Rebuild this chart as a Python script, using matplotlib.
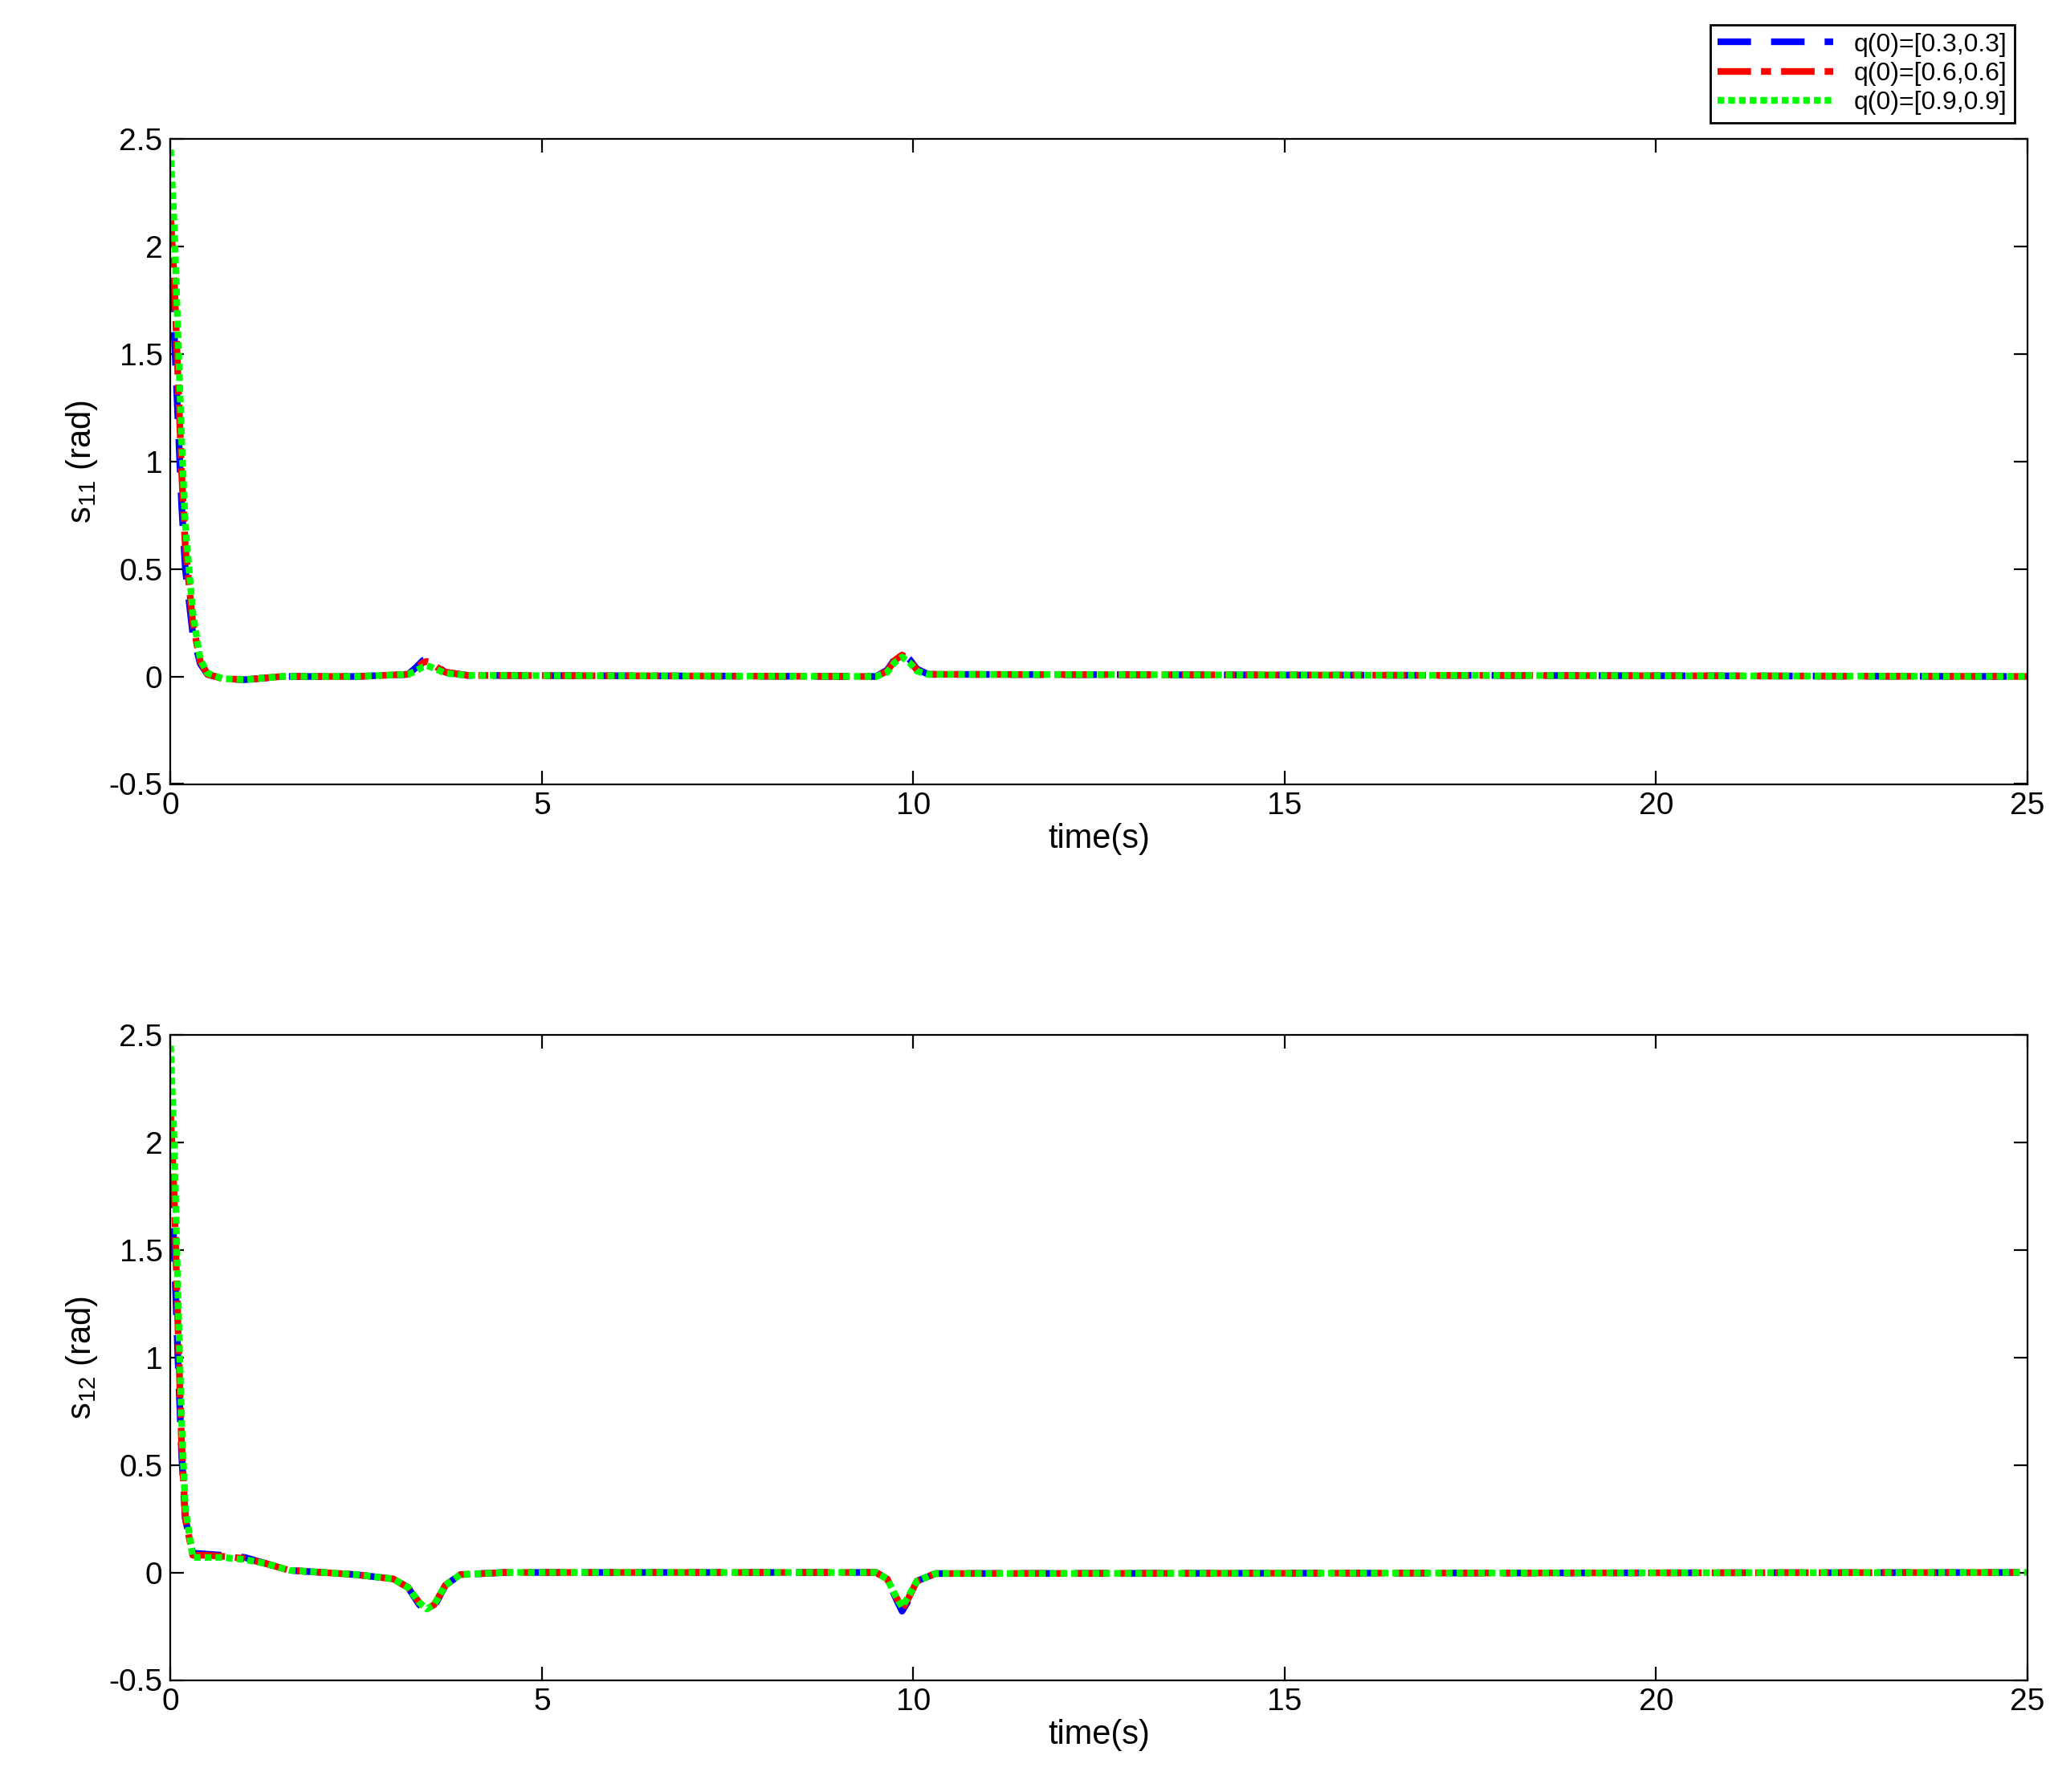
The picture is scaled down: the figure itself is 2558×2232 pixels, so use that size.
import numpy as np
import matplotlib.pyplot as plt

plt.rcParams['font.family'] = ['Liberation Sans', 'DejaVu Sans']
plt.rcParams['mathtext.fontset'] = 'custom'
plt.rcParams['mathtext.rm'] = 'Liberation Sans'
plt.rcParams['mathtext.it'] = 'Liberation Sans'

# s11 data (time, value) per initial condition
t_top = [0, 0.05, 0.1, 0.15, 0.2, 0.3, 0.4, 0.5, 0.7, 1.0, 1.5, 2.5, 3.2, 3.3, 3.4, 3.45, 3.5, 3.6, 3.7, 4.0, 9.5, 9.65, 9.75, 9.85, 9.95, 10.05, 10.2, 25]
s11_a = [1.85, 1.6, 1.2, 0.8, 0.5, 0.2, 0.06, 0.01, -0.01, -0.015, 0.0, 0.0, 0.01, 0.04, 0.075, 0.08, 0.075, 0.045, 0.02, 0.005, 0.0, 0.03, 0.08, 0.11, 0.08, 0.035, 0.01, 0.0]
s11_b = [2.15, 1.85, 1.4, 0.95, 0.6, 0.25, 0.07, 0.01, -0.01, -0.015, 0.0, 0.0, 0.01, 0.035, 0.065, 0.07, 0.065, 0.04, 0.02, 0.005, 0.0, 0.025, 0.075, 0.1, 0.075, 0.03, 0.01, 0.0]
s11_c = [2.45, 2.1, 1.6, 1.1, 0.7, 0.3, 0.08, 0.015, -0.01, -0.015, 0.0, 0.0, 0.01, 0.025, 0.045, 0.05, 0.045, 0.03, 0.015, 0.005, 0.0, 0.02, 0.065, 0.09, 0.065, 0.025, 0.01, 0.0]

# s12 data
t_bot = [0, 0.05, 0.1, 0.15, 0.2, 0.3, 0.5, 0.7, 1.0, 1.3, 1.6, 2.5, 3.0, 3.2, 3.35, 3.45, 3.55, 3.7, 3.9, 4.5, 9.5, 9.65, 9.78, 9.85, 9.92, 10.05, 10.3, 25]
s12_a = [1.85, 1.5, 1.0, 0.55, 0.25, 0.09, 0.085, 0.08, 0.07, 0.04, 0.01, -0.01, -0.03, -0.07, -0.15, -0.18, -0.16, -0.06, -0.01, 0.0, 0.0, -0.03, -0.13, -0.18, -0.14, -0.04, -0.005, 0.0]
s12_b = [2.15, 1.75, 1.15, 0.6, 0.25, 0.08, 0.08, 0.075, 0.065, 0.04, 0.01, -0.01, -0.03, -0.07, -0.14, -0.17, -0.15, -0.06, -0.01, 0.0, 0.0, -0.03, -0.12, -0.17, -0.13, -0.04, -0.005, 0.0]
s12_c = [2.45, 2.0, 1.3, 0.7, 0.3, 0.07, 0.07, 0.07, 0.06, 0.04, 0.01, -0.01, -0.03, -0.07, -0.14, -0.17, -0.15, -0.06, -0.01, 0.0, 0.0, -0.03, -0.12, -0.16, -0.12, -0.04, -0.005, 0.0]

labels = ['q(0)=[0.3,0.3]', 'q(0)=[0.6,0.6]', 'q(0)=[0.9,0.9]']
colors = ['#0000ff', '#ff0000', '#00ff00']
styles = [(0, (5, 3)), (0, (5, 1.5, 1.5, 1.5)), (0, (1, 0.6))]

fig = plt.figure(figsize=(12.79, 11.16), dpi=200)
ax1 = fig.add_axes([0.083, 0.5625, 0.904, 0.36])
ax2 = fig.add_axes([0.083, 0.0625, 0.904, 0.36])

for ax, t, ys, lab in [(ax1, t_top, [s11_a, s11_b, s11_c], 's$_{11}$ (rad)'),
                       (ax2, t_bot, [s12_a, s12_b, s12_c], 's$_{12}$ (rad)')]:
    for y, c, ls, l in zip(ys, colors, styles, labels):
        ax.plot(t, y, color=c, linestyle=ls, linewidth=3, label=l)
    ax.set_xlim(0, 25)
    ax.set_ylim(-0.5, 2.5)
    ax.set_xticks([0, 5, 10, 15, 20, 25])
    ax.set_yticks([-0.5, 0, 0.5, 1, 1.5, 2, 2.5])
    ax.set_yticklabels(['-0.5', '0', '0.5', '1', '1.5', '2', '2.5'])
    ax.tick_params(direction='in', labelsize=14, top=True, right=True, length=6)
    ax.set_xlabel('time(s)', fontsize=15, labelpad=1)
    ax.set_ylabel(lab, fontsize=15)

ax1.legend(loc='lower right', bbox_to_anchor=(1.0, 1.005), fontsize=11.5,
           fancybox=False, edgecolor='black', framealpha=1, borderpad=0.3,
           labelspacing=0.2, handlelength=4.5)

plt.savefig('out.png')
